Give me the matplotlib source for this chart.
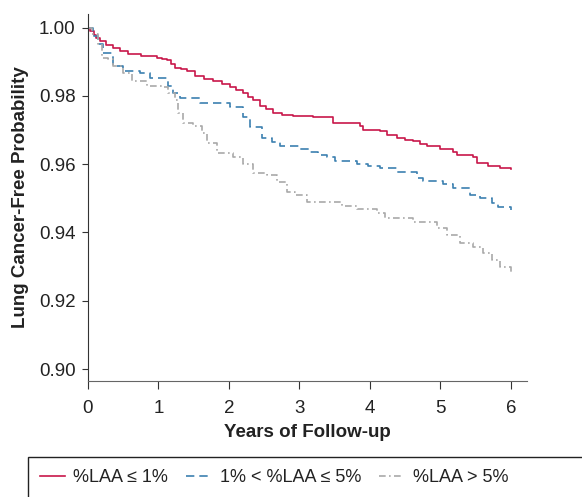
import matplotlib
matplotlib.use('Agg')
import matplotlib.pyplot as plt
from matplotlib.patches import Rectangle

plt.rcParams['font.family'] = ['Liberation Sans', 'DejaVu Sans']

# Kaplan-Meier style step curves
low_t = [0, 0.03, 0.08, 0.12, 0.17, 0.25, 0.36, 0.46, 0.57, 0.75, 0.98, 1.05, 1.12,
         1.18, 1.23, 1.32, 1.40, 1.52, 1.65, 1.77, 1.90, 2.01, 2.10, 2.20, 2.27, 2.34,
         2.44, 2.53, 2.62, 2.75, 2.91, 3.20, 3.48, 3.86, 3.90, 4.14, 4.25, 4.38, 4.50,
         4.61, 4.71, 4.81, 4.99, 5.18, 5.23, 5.46, 5.52, 5.67, 5.84, 6.0]
low_s = [1.0, 0.9990, 0.9978, 0.9970, 0.9962, 0.9950, 0.9939, 0.9931, 0.9924, 0.9918,
         0.9912, 0.9908, 0.9904, 0.9894, 0.9883, 0.9878, 0.9874, 0.9857, 0.9851,
         0.9845, 0.9836, 0.9827, 0.9818, 0.9810, 0.9798, 0.9787, 0.9772, 0.9762,
         0.9751, 0.9745, 0.9740, 0.9737, 0.9722, 0.9713, 0.9700, 0.9696, 0.9687,
         0.9678, 0.9672, 0.9667, 0.9660, 0.9652, 0.9646, 0.9637, 0.9626, 0.9620,
         0.9605, 0.9596, 0.9590, 0.9585]

mid_t = [0, 0.07, 0.14, 0.21, 0.36, 0.50, 0.74, 0.88, 1.13, 1.21, 1.31, 1.59, 2.01,
         2.20, 2.30, 2.47, 2.61, 2.72, 3.0, 3.15, 3.26, 3.39, 3.50, 3.82, 3.97, 4.14,
         4.38, 4.67, 4.75, 5.04, 5.18, 5.42, 5.56, 5.74, 5.82, 6.0]
mid_s = [1.0, 0.9977, 0.9953, 0.9927, 0.9889, 0.9874, 0.9868, 0.9854, 0.9830, 0.9810,
         0.9795, 0.9780, 0.9769, 0.9737, 0.9708, 0.9678, 0.9664, 0.9652, 0.9646,
         0.9637, 0.9626, 0.9620, 0.9608, 0.9602, 0.9594, 0.9588, 0.9576, 0.9561,
         0.9550, 0.9541, 0.9529, 0.9509, 0.9500, 0.9485, 0.9474, 0.9465]

high_t = [0, 0.06, 0.14, 0.20, 0.28, 0.36, 0.50, 0.62, 0.84, 1.06, 1.13, 1.23, 1.28,
          1.35, 1.49, 1.62, 1.69, 1.83, 2.06, 2.20, 2.34, 2.54, 2.68, 2.82, 2.94,
          3.11, 3.60, 3.82, 4.10, 4.21, 4.61, 4.95, 5.09, 5.28, 5.46, 5.60, 5.74,
          5.84, 6.0]
high_s = [1.0, 0.9980, 0.9953, 0.9912, 0.9909, 0.9889, 0.9868, 0.9845, 0.9830, 0.9825,
          0.9810, 0.9787, 0.9749, 0.9722, 0.9713, 0.9690, 0.9661, 0.9632, 0.9620,
          0.9602, 0.9573, 0.9567, 0.9547, 0.9518, 0.9509, 0.9488, 0.9477, 0.9468,
          0.9456, 0.9442, 0.9430, 0.9412, 0.9392, 0.9368, 0.9357, 0.9339, 0.9319,
          0.9298, 0.9284]

labels = ['%LAA \u2264 1%', '1% < %LAA \u2264 5%', '%LAA > 5%']
colors = ['#c8174a', '#3c80b0', '#a9a9a9']
styles = ['-', (0, (5, 3)), (0, (4, 2, 1, 2))]

fig = plt.figure(figsize=(5.82, 4.97), dpi=100)
ax = fig.add_axes([0.1512, 0.2334, 0.7543, 0.7384])

series = [(low_t, low_s), (mid_t, mid_s), (high_t, high_s)]
handles = []
for (t, s), lab, c, ls in zip(series, labels, colors, styles):
    h, = ax.step(t, s, where='post', color=c, linestyle=ls, linewidth=1.2, label=lab)
    handles.append(h)

ax.set_xlim(0, 6.23)
ax.set_ylim(0.8965, 1.004)
ax.set_xticks(range(7))
ax.set_yticks([0.90, 0.92, 0.94, 0.96, 0.98, 1.00])
ax.set_yticklabels(['0.90', '0.92', '0.94', '0.96', '0.98', '1.00'])
ax.tick_params(labelsize=13.5, color='#333333', labelcolor='#222222')
ax.tick_params(axis='y', length=4, pad=5)
ax.tick_params(axis='x', length=6, pad=8)
for side in ['top', 'right']:
    ax.spines[side].set_visible(False)
ax.spines['left'].set_color('#333333')
ax.spines['bottom'].set_color('#666666')
ax.set_xlabel('Years of Follow-up', fontsize=13.5, fontweight='bold',
              color='#222222', labelpad=5)
ax.set_ylabel('Lung Cancer-Free Probability', fontsize=13.5, fontweight='bold',
              color='#222222', labelpad=7)

# legend box runs off the right and bottom edges
fig.patches.append(Rectangle((28 / 582, -0.1), 1.0, 0.1 + 1 - 457 / 497,
                             transform=fig.transFigure, fill=False,
                             edgecolor='#222222', linewidth=1.0))
fig.legend(handles=handles, labels=labels, loc='center left',
           bbox_to_anchor=(40 / 582, 1 - 478 / 497), ncol=3, frameon=False,
           fontsize=13, labelcolor='#222222', handlelength=1.4, handletextpad=0.45,
           columnspacing=1.0, borderaxespad=0, borderpad=0)

fig.savefig('out.png', dpi=100)
